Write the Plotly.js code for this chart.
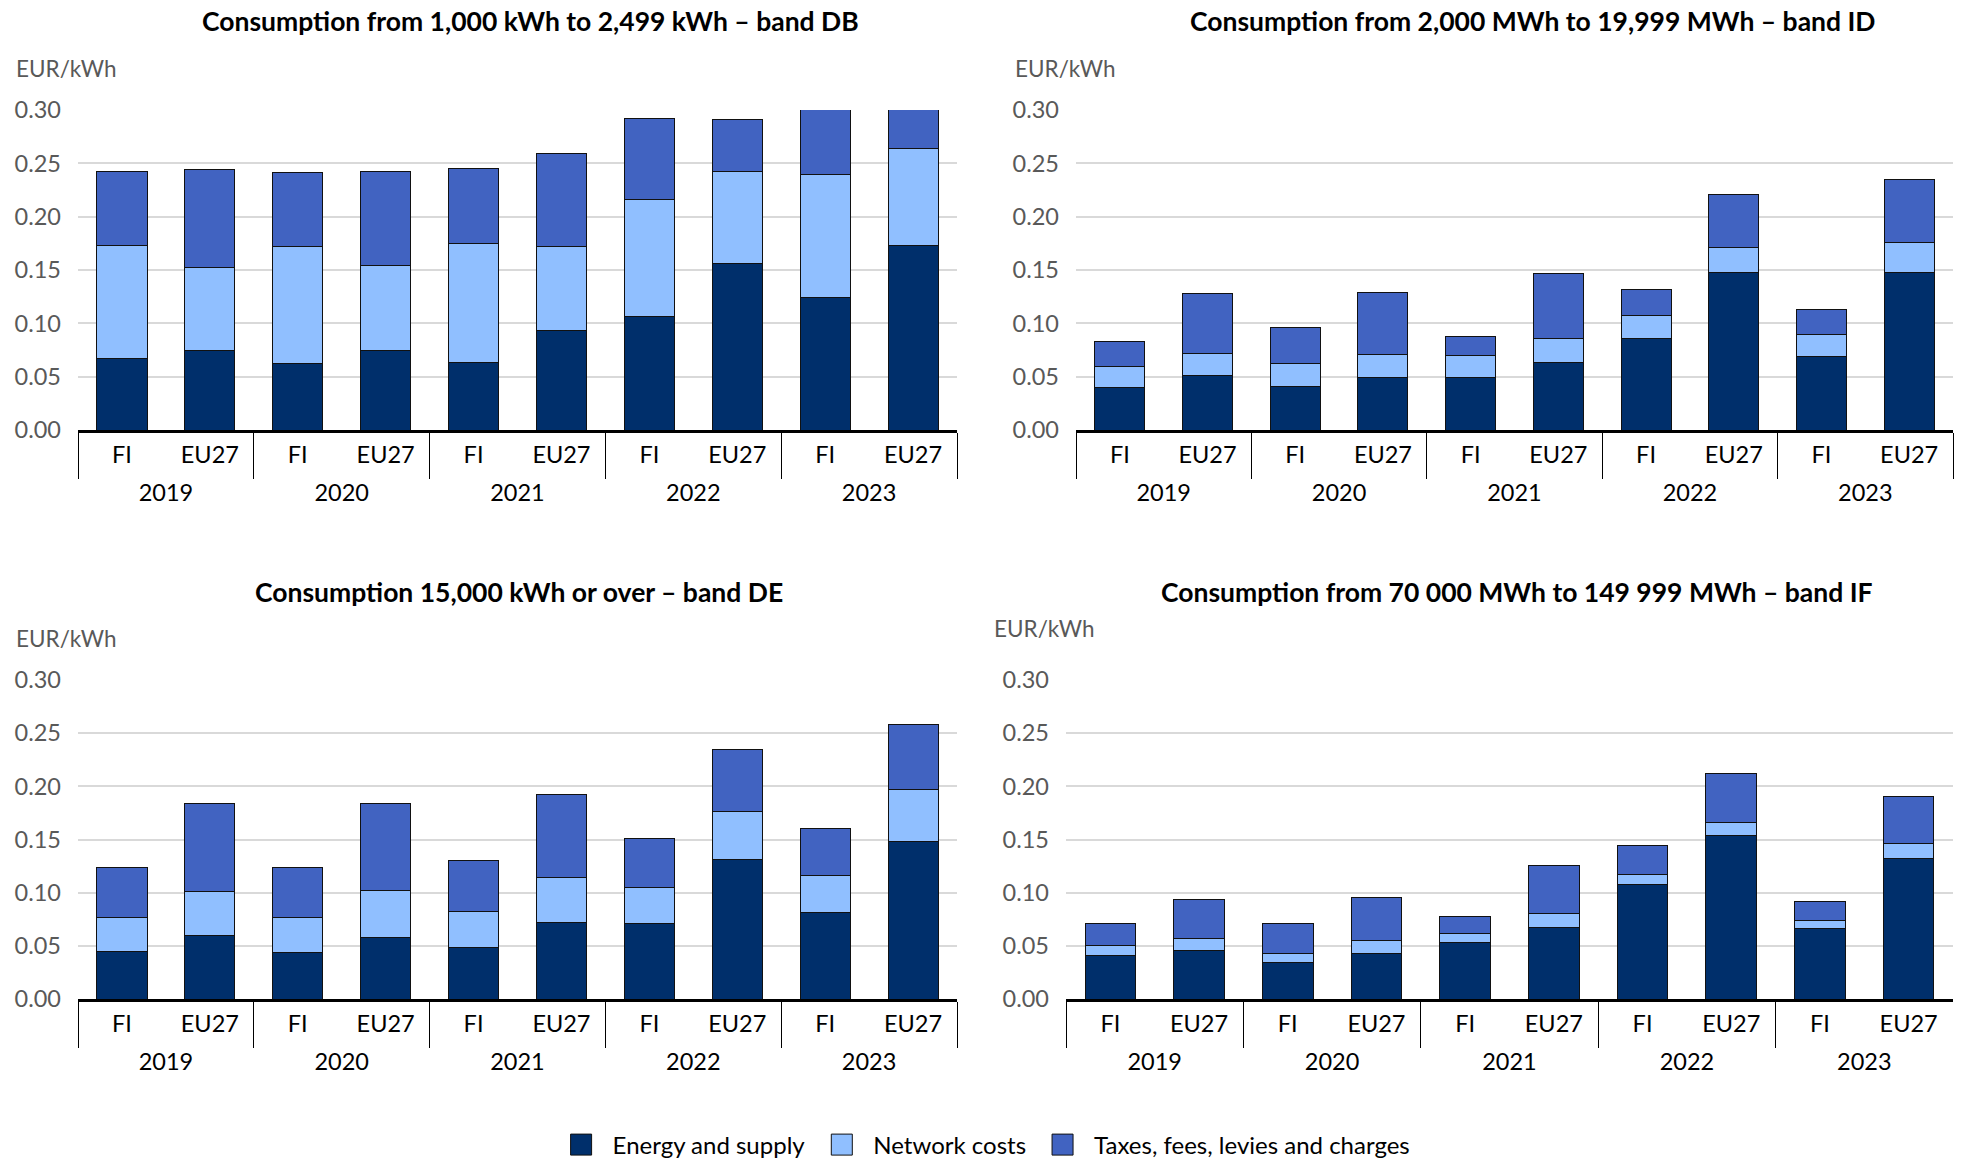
<!DOCTYPE html>
<html>
<head>
<meta charset="utf-8">
<script src="https://cdn.plot.ly/plotly-3.0.1.min.js"></script>
<style>
html,body{margin:0;padding:0;background:#fff;overflow:hidden;}
#chart{width:1966px;height:1160px;}
</style>
</head>
<body>
<div id="chart"></div>
<script>
// ---- data ----
const years   = ['2019','2019','2020','2020','2021','2021','2022','2022','2023','2023'];
const regions = ['FI','EU27','FI','EU27','FI','EU27','FI','EU27','FI','EU27'];
const seriesNames = ['Energy and supply','Network costs','Taxes, fees, levies and charges'];

const titles = [
  'Consumption from 1,000 kWh to 2,499 kWh – band DB',
  'Consumption from 2,000 MWh to 19,999 MWh – band ID',
  'Consumption 15,000 kWh or over – band DE',
  'Consumption from 70 000 MWh to 149 999 MWh – band IF'
];

// band DB
const dbEnergy  = [0.067, 0.075, 0.062, 0.075, 0.063, 0.093, 0.106, 0.156, 0.124, 0.173];
const dbNetwork = [0.106, 0.077, 0.110, 0.079, 0.112, 0.079, 0.110, 0.086, 0.116, 0.091];
const dbTaxes   = [0.069, 0.092, 0.069, 0.088, 0.070, 0.087, 0.076, 0.049, 0.075, 0.045];
// band ID
const idEnergy  = [0.040, 0.051, 0.041, 0.049, 0.049, 0.063, 0.086, 0.148, 0.069, 0.148];
const idNetwork = [0.020, 0.021, 0.021, 0.022, 0.021, 0.023, 0.021, 0.023, 0.021, 0.028];
const idTaxes   = [0.023, 0.056, 0.034, 0.058, 0.018, 0.061, 0.025, 0.050, 0.023, 0.059];
// band DE
const deEnergy  = [0.045, 0.060, 0.044, 0.058, 0.048, 0.072, 0.071, 0.131, 0.081, 0.148];
const deNetwork = [0.032, 0.041, 0.033, 0.044, 0.034, 0.042, 0.034, 0.045, 0.035, 0.049];
const deTaxes   = [0.047, 0.083, 0.047, 0.082, 0.048, 0.078, 0.046, 0.059, 0.044, 0.061];
// band IF
const ifEnergy  = [0.041, 0.046, 0.034, 0.043, 0.053, 0.067, 0.108, 0.154, 0.066, 0.132];
const ifNetwork = [0.009, 0.011, 0.009, 0.012, 0.009, 0.013, 0.009, 0.012, 0.008, 0.014];
const ifTaxes   = [0.021, 0.037, 0.028, 0.040, 0.016, 0.046, 0.027, 0.046, 0.018, 0.044];

const panels = [
  [dbEnergy, dbNetwork, dbTaxes],
  [idEnergy, idNetwork, idTaxes],
  [deEnergy, deNetwork, deTaxes],
  [ifEnergy, ifNetwork, ifTaxes]
];
const yTickVals = [0, 0.05, 0.10, 0.15, 0.20, 0.25, 0.30];
const yTickText = ['0.00','0.05','0.10','0.15','0.20','0.25','0.30'];

// ---- styling ----
const colors = ['#002f6b', '#90bfff', '#4163c1'];
const W = 1966, H = 1160;
const FONT = 'Lato, "Open Sans", sans-serif';
const px = v => v / W;
const py = v => 1 - v / H;

// plot-area pixel boxes [left, right, top, bottom]
const boxes = [
  [78, 957, 110, 430],
  [1076, 1953, 110, 430],
  [78, 957, 680, 999],
  [1066, 1953, 680, 999]
];
const titlePos = [[530, 21], [1533, 21], [519, 592], [1517, 592]];
const unitPos  = [[14, 68], [1013, 68], [14, 638], [992, 628]];

const traces = [];
const layout = {
  width: W, height: H,
  margin: {l: 0, r: 0, t: 0, b: 0, autoexpand: false},
  paper_bgcolor: '#fff', plot_bgcolor: '#fff',
  barmode: 'stack',
  bargap: 0.43,
  font: {family: FONT, size: 22, color: '#000'},
  showlegend: true,
  legend: {
    orientation: 'h', xref: 'container', yref: 'container',
    x: 0.4998, xanchor: 'center', y: py(1145), yanchor: 'middle',
    font: {family: FONT, size: 24, color: '#000'},
    itemwidth: 53, traceorder: 'normal'
  },
  annotations: []
};

panels.forEach((p, i) => {
  const n = i + 1;
  const sfx = n === 1 ? '' : String(n);
  const xa = 'x' + sfx, ya = 'y' + sfx;
  p.forEach((vals, s) => {
    traces.push({
      type: 'bar',
      x: [years, regions],
      y: vals,
      name: seriesNames[s],
      xaxis: xa, yaxis: ya,
      legendgroup: seriesNames[s],
      showlegend: i === 0,
      marker: {color: colors[s], line: {color: '#111', width: 1}},
      hoverinfo: 'skip'
    });
  });
  const b = boxes[i];
  layout['xaxis' + sfx] = {
    domain: [px(b[0]), px(b[1])],
    anchor: ya,
    type: 'multicategory',
    showline: true, linecolor: '#000', linewidth: 3,
    showgrid: false, zeroline: false,
    ticks: '',
    ticklabelstandoff: 2,
    showdividers: true, dividercolor: '#000', dividerwidth: 1,
    tickfont: {family: FONT, size: 23.5, color: '#000'},
    fixedrange: true
  };
  layout['yaxis' + sfx] = {
    domain: [py(b[3]), py(b[2])],
    anchor: xa,
    range: [0, 0.30],
    tickvals: yTickVals, ticktext: yTickText,
    showgrid: true, gridcolor: '#d9d9d9', gridwidth: 2,
    zeroline: false, showline: false, ticks: '',
    ticklabelstandoff: 16,
    tickfont: {family: FONT, size: 23.5, color: '#595959'},
    fixedrange: true
  };
  layout.annotations.push({
    text: '<b>' + titles[i] + '</b>', xref: 'paper', yref: 'paper',
    x: px(titlePos[i][0]), y: py(titlePos[i][1]), xanchor: 'center', yanchor: 'middle',
    showarrow: false, font: {family: FONT, size: 26.5, color: '#000'}
  });
  layout.annotations.push({
    text: 'EUR/kWh', xref: 'paper', yref: 'paper',
    x: px(unitPos[i][0]), y: py(unitPos[i][1]), xanchor: 'left', yanchor: 'middle',
    showarrow: false, font: {family: FONT, size: 22.5, color: '#595959'}
  });
});

Plotly.newPlot('chart', traces, layout, {displayModeBar: false, staticPlot: true}).then(gd => {
  // larger square legend swatches like the original
  gd.querySelectorAll('.legend .legendpoints path').forEach(p => {
    p.setAttribute('d', 'M10.5,10.5H-10.5V-10.5H10.5Z');
  });
  // year row sits a little lower, group dividers end above the year row
  const SHIFT = 10, DIV_LEN = 46;
  gd.querySelectorAll('g[class*="tick2"]').forEach(g => {
    const t = g.getAttribute('transform') || '';
    g.setAttribute('transform', t + ' translate(0,' + SHIFT + ')');
  });
  gd.querySelectorAll('path[class*="divider"]').forEach(p => {
    const d = p.getAttribute('d') || '';
    p.setAttribute('d', d.replace(/([vV])(-?[\d.]+)/, (m, c, v) => {
      const num = parseFloat(v);
      return c + (num < 0 ? -DIV_LEN : DIV_LEN);
    }));
  });
});
</script>
</body>
</html>
